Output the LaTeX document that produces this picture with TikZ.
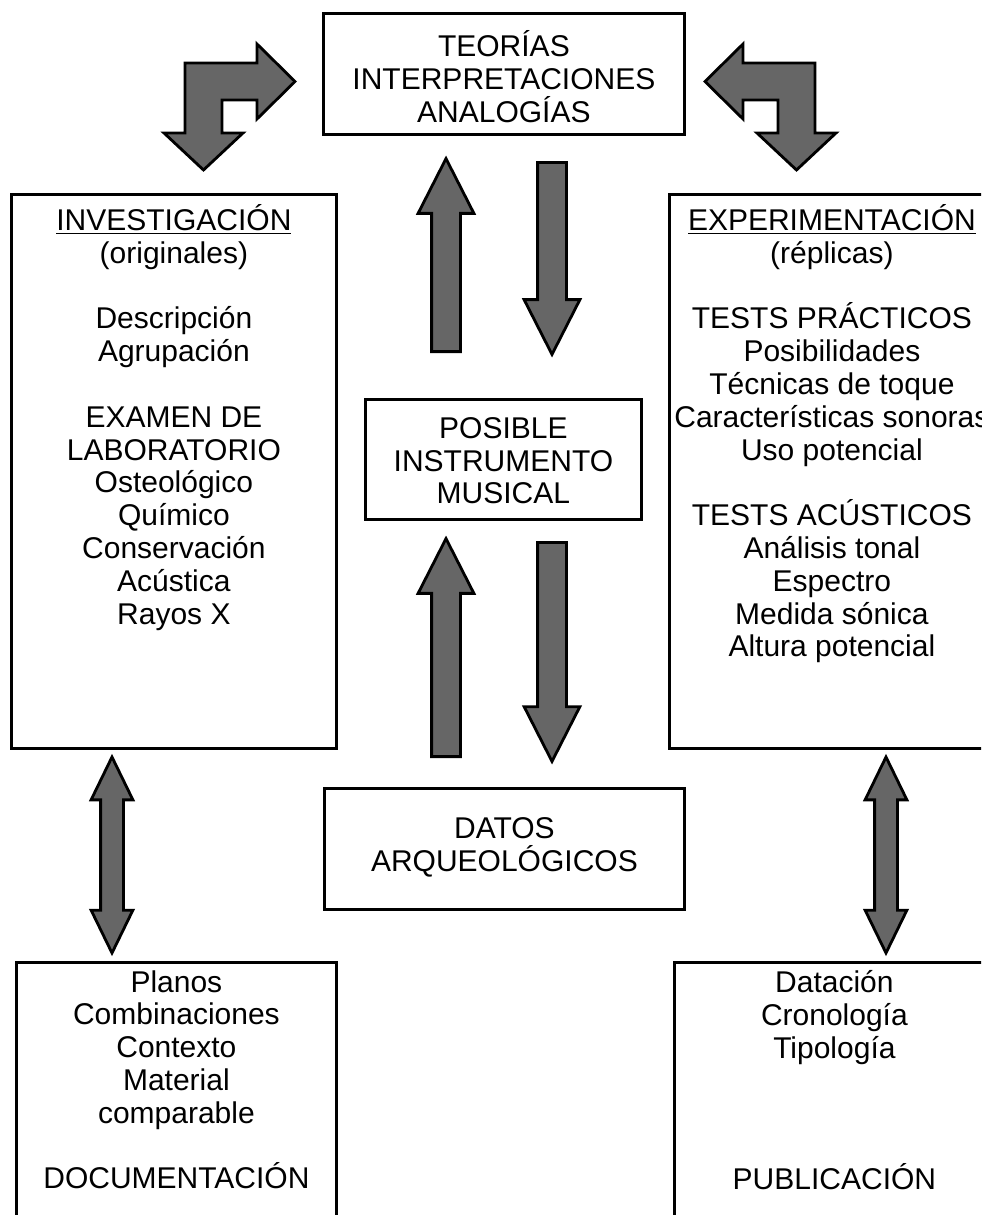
\documentclass[tikz,border=0pt]{standalone}
\usepackage{fontspec}
\setmainfont{Liberation Sans}
\usetikzlibrary{shapes.arrows,positioning}
\definecolor{arrowgray}{RGB}{102,102,102}
\newcommand\diafont{\fontsize{15}{16.4}\selectfont}

\begin{document}
\begin{tikzpicture}[x=0.5pt,y=-0.5pt,
  box/.style={draw,line width=1.4pt,inner sep=0pt,anchor=north west},
  txt/.style={anchor=north,inner sep=0pt,align=center,font=\diafont,
    execute at begin node=\rule{0pt}{15pt}},
  blk/.style={draw,line width=1.4pt,fill=arrowgray,line join=miter},
  onearrow/.style={blk,single arrow,inner xsep=0pt,inner ysep=6.5pt,
    minimum width=26.5pt,single arrow head extend=6.75pt,
    single arrow tip angle=54,anchor=tail},
  twoarrow/.style={blk,double arrow,rotate=90,inner xsep=0pt,inner ysep=5pt,
    minimum width=19.5pt,double arrow head extend=4.75pt,
    double arrow tip angle=52,minimum height=98pt}]
\useasboundingbox (0,0) rectangle (981,1215);
\clip (0,0) rectangle (981,1215);

\node [box,minimum width=180.5pt,minimum height=60.5pt] (teo) at (322,12) {};
\node [box,minimum width=162.5pt,minimum height=277pt] (inv) at (10,193) {};
\node [box,minimum width=162.5pt,minimum height=277pt] (exp) at (668,193) {};
\node [box,minimum width=138pt,minimum height=60pt] (pos) at (364,398) {};
\node [box,minimum width=180pt,minimum height=60.5pt] (dat) at (323,787) {};
\node [box,minimum width=160pt,minimum height=140pt] (doc) at (15,961) {};
\node [box,minimum width=160pt,minimum height=140pt] (pub) at (673,961) {};

\node [txt,below=9pt of teo.north] (teotxt) {TEORÍAS\\INTERPRETACIONES\\ANALOGÍAS};
\node [txt,below=5.5pt of inv.north] (invtxt) {\underline{INVESTIGACIÓN}\\(originales)\\[16.4pt]
  Descripción\\Agrupación\\[16.4pt]EXAMEN DE\\LABORATORIO\\Osteológico\\Químico\\
  Conservación\\Acústica\\Rayos X};
\node [txt,below=5.5pt of exp.north] (exptxt) {\underline{EXPERIMENTACIÓN}\\(réplicas)\\[16.4pt]
  TESTS PRÁCTICOS\\Posibilidades\\Técnicas de toque\\Características sonoras\\
  Uso potencial\\[16.4pt]TESTS ACÚSTICOS\\Análisis tonal\\Espectro\\Medida sónica\\
  Altura potencial};
\node [txt,below=9.5pt of pos.north] (postxt) {POSIBLE\\INSTRUMENTO\\MUSICAL};
\node [txt,below=15pt of dat.north] (dattxt) {DATOS\\ARQUEOLÓGICOS};
\node [txt,below=4.5pt of doc.north] (doctxt) {Planos\\Combinaciones\\Contexto\\Material\\
  comparable\\[16.4pt]DOCUMENTACIÓN};
\node [txt,below=4.5pt of pub.north] (pubtxt) {Datación\\Cronología\\Tipología\\[49.2pt]
  PUBLICACIÓN};

\node [onearrow,rotate=90,minimum height=96.5pt] (up1) at (446,353) {};
\node [onearrow,rotate=-90,minimum height=96pt] (down1) at (552,161) {};
\node [onearrow,rotate=90,minimum height=109pt] (up2) at (446,758) {};
\node [onearrow,rotate=-90,minimum height=109.5pt] (down2) at (552,541) {};

\node [twoarrow] (leftdbl) at (112,855) {};
\node [twoarrow] (rightdbl) at (886,855) {};

\draw [blk] (185,63) -- (257,63) -- (257,44) -- (295,81.5) -- (257,119) -- (257,100)
  -- (222,100) -- (222,133) -- (243,133) -- (203.5,170) -- (164,133) -- (185,133) -- cycle;
\draw [blk] (815,63) -- (743,63) -- (743,44) -- (705,81.5) -- (743,119) -- (743,100)
  -- (778,100) -- (778,133) -- (757,133) -- (796.5,170) -- (836,133) -- (815,133) -- cycle;
\end{tikzpicture}
\end{document}
